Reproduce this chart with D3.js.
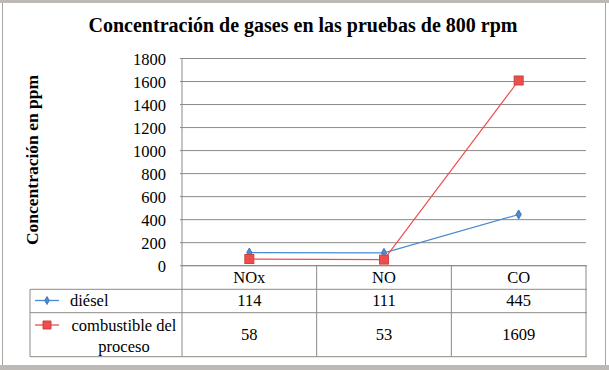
<!DOCTYPE html>
<html>
<head>
<meta charset="utf-8">
<script src="https://cdn.jsdelivr.net/npm/d3@7"></script>
<style>
  body { margin: 0; background: #fff; }
  svg text { font-family: "Liberation Serif", "Times New Roman", serif; }
</style>
</head>
<body>
<script>
// categories and series
var categories = ["NOx", "NO", "CO"];
var diesel = [114, 111, 445];
var proceso = [58, 53, 1609];
var seriesNames = ["diésel", "combustible del", "proceso"];
var yTicks = [0, 200, 400, 600, 800, 1000, 1200, 1400, 1600, 1800];

var w = 609, h = 370;
var plotLeft = 182, plotRight = 586, plotTop = 58.5, plotBottom = 265.7;
var tableLeft = 30, rowA = 289.3, rowB = 312.7, tableBottom = 356.7;
var gridColor = "#8c8a86";
var blue = "#4a8ad2", red = "#ee4d4d";
var fs = 16.5;

var svg = d3.select("body").append("svg")
    .attr("width", w)
    .attr("height", h)
    .style("display", "block");

// outer frame
svg.append("rect").attr("x", 0).attr("y", 0).attr("width", w).attr("height", 3).attr("fill", "#bdbab5");
svg.append("rect").attr("x", 0).attr("y", 365).attr("width", w).attr("height", 5).attr("fill", "#bdbab5");
svg.append("line").attr("x1", 2.5).attr("x2", 2.5).attr("y1", 3).attr("y2", 365).attr("stroke", "#a8a6a2");
svg.append("line").attr("x1", 605.5).attr("x2", 605.5).attr("y1", 3).attr("y2", 365).attr("stroke", "#a8a6a2");

// title
svg.append("text")
    .attr("x", 303).attr("y", 32)
    .attr("text-anchor", "middle")
    .attr("font-size", 20).attr("font-weight", "bold")
    .text("Concentración de gases en las pruebas de 800 rpm");

var x = d3.scaleBand().domain(categories).range([plotLeft, plotRight]);
var y = d3.scaleLinear().domain([0, 1800]).range([plotBottom, plotTop]);

// gridlines
svg.append("g")
    .selectAll("line")
    .data(yTicks)
    .enter()
    .append("line")
    .attr("x1", plotLeft - 2).attr("x2", plotRight)
    .attr("y1", function(d) { return y(d); })
    .attr("y2", function(d) { return y(d); })
    .attr("stroke", gridColor).attr("stroke-width", 1);

// y axis labels
var yAxis = d3.axisLeft(y).tickValues(yTicks).tickFormat(d3.format("d")).tickSize(0).tickPadding(16);
var gy = svg.append("g").attr("transform", "translate(" + plotLeft + ",0)").call(yAxis);
gy.select(".domain").remove();
gy.attr("font-size", fs);
gy.selectAll("text").attr("fill", "#000").attr("dy", "0.34em");

svg.append("text")
    .attr("transform", "translate(38,160) rotate(-90)")
    .attr("text-anchor", "middle")
    .attr("font-size", 17.5).attr("font-weight", "bold")
    .text("Concentración en ppm");

// data table lines
var tbl = svg.append("g").attr("stroke", gridColor).attr("stroke-width", 1).attr("fill", "none");
tbl.append("line").attr("x1", plotLeft).attr("x2", plotLeft).attr("y1", plotTop).attr("y2", tableBottom);
categories.forEach(function(c) {
    tbl.append("line").attr("x1", x(c) + x.bandwidth()).attr("x2", x(c) + x.bandwidth())
        .attr("y1", plotBottom).attr("y2", tableBottom);
});
tbl.append("line").attr("x1", tableLeft).attr("x2", tableLeft).attr("y1", rowA).attr("y2", tableBottom);
[rowA, rowB, tableBottom].forEach(function(yy) {
    tbl.append("line").attr("x1", tableLeft).attr("x2", plotRight + 1).attr("y1", yy).attr("y2", yy);
});
tbl.append("line").attr("x1", plotLeft).attr("x2", plotRight + 1).attr("y1", plotBottom).attr("y2", plotBottom);

// header and values
var cx = function(c) { return x(c) + x.bandwidth() / 2; };
svg.append("g").selectAll("text").data(categories).enter().append("text")
    .attr("x", cx).attr("y", 283)
    .attr("text-anchor", "middle").attr("font-size", fs)
    .text(function(d) { return d; });
svg.append("g").selectAll("text").data(diesel).enter().append("text")
    .attr("x", function(d, i) { return cx(categories[i]); }).attr("y", 306)
    .attr("text-anchor", "middle").attr("font-size", fs)
    .text(function(d) { return d; });
svg.append("g").selectAll("text").data(proceso).enter().append("text")
    .attr("x", function(d, i) { return cx(categories[i]); }).attr("y", 340)
    .attr("text-anchor", "middle").attr("font-size", fs)
    .text(function(d) { return d; });

// legend keys in table
function key(yy, color, shape, size) {
    svg.append("line").attr("x1", 35).attr("x2", 59).attr("y1", yy).attr("y2", yy)
        .attr("stroke", color).attr("stroke-width", 1.3);
    svg.append("path").attr("transform", "translate(47," + yy + ")")
        .attr("d", d3.symbol().type(shape).size(size)())
        .attr("fill", color).attr("stroke", d3.color(color).darker(0.4));
}
key(300.5, blue, d3.symbolDiamond, 18);
key(325, red, d3.symbolSquare, 64);
svg.append("text").attr("x", 70).attr("y", 306).attr("font-size", fs).text(seriesNames[0]);
svg.append("text").attr("x", 124).attr("y", 331).attr("text-anchor", "middle").attr("font-size", fs).text(seriesNames[1]);
svg.append("text").attr("x", 124).attr("y", 352).attr("text-anchor", "middle").attr("font-size", fs).text(seriesNames[2]);

// series lines and markers
var line = d3.line()
    .x(function(d, i) { return cx(categories[i]); })
    .y(function(d) { return y(d); });

svg.append("path").datum(diesel).attr("d", line)
    .attr("fill", "none").attr("stroke", blue).attr("stroke-width", 1.2);
svg.append("g").selectAll("path").data(diesel).enter().append("path")
    .attr("transform", function(d, i) { return "translate(" + cx(categories[i]) + "," + y(d) + ")"; })
    .attr("d", d3.symbol().type(d3.symbolDiamond).size(24)())
    .attr("fill", blue).attr("stroke", d3.color(blue).darker(0.4));

svg.append("path").datum(proceso).attr("d", line)
    .attr("fill", "none").attr("stroke", red).attr("stroke-width", 1.2);
svg.append("g").selectAll("rect").data(proceso).enter().append("rect")
    .attr("x", function(d, i) { return cx(categories[i]) - 4.5; })
    .attr("y", function(d) { return y(d) - 4.5; })
    .attr("width", 9).attr("height", 9)
    .attr("fill", red).attr("stroke", d3.color(red).darker(0.4));
</script>
</body>
</html>
